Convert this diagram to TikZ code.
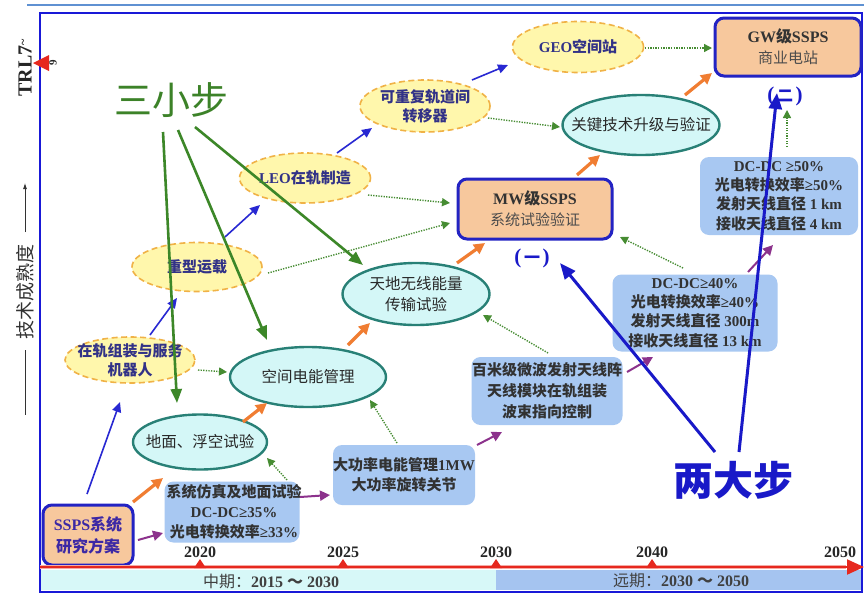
\documentclass[tikz,border=0pt]{standalone}
\usepackage{fontspec}
\setmainfont{Liberation Serif}
\newfontfamily\cjk{Noto Sans CJK SC}
\usetikzlibrary{shapes.geometric,arrows.meta,calc}
\newcommand\zh[1]{{\cjk #1}}
\newcommand\bigpar[1]{{\fontsize{21}{21}\selectfont #1}}
\definecolor{framecol}{RGB}{25,25,215}
\definecolor{topline}{RGB}{95,145,210}
\definecolor{yfill}{RGB}{255,247,172}
\definecolor{yline}{RGB}{240,178,70}
\definecolor{ytext}{RGB}{50,50,135}
\definecolor{cfill}{RGB}{212,247,247}
\definecolor{cline}{RGB}{40,128,118}
\definecolor{ctext}{RGB}{40,40,40}
\definecolor{bfill}{RGB}{168,200,242}
\definecolor{btext}{RGB}{50,50,50}
\definecolor{ofill}{RGB}{247,200,157}
\definecolor{oline}{RGB}{35,35,195}
\definecolor{stxt}{RGB}{60,40,165}
\definecolor{ablue}{RGB}{40,40,210}
\definecolor{aorange}{RGB}{240,125,50}
\definecolor{apurple}{RGB}{140,50,140}
\definecolor{agreen}{RGB}{70,140,50}
\definecolor{gbig}{RGB}{60,135,40}
\definecolor{sxgreen}{RGB}{60,130,40}
\definecolor{ldblue}{RGB}{25,25,200}
\definecolor{tred}{RGB}{230,40,30}
\definecolor{tpink}{RGB}{245,170,165}
\definecolor{bandc}{RGB}{215,248,248}
\definecolor{bandb}{RGB}{165,196,240}
\begin{document}
\begin{tikzpicture}[x=1pt,y=-1pt,
  yel/.style={ellipse, draw=yline, fill=yfill, line width=1.6pt, dash pattern=on 6pt off 3.5pt, inner sep=0pt},
  cyn/.style={ellipse, draw=cline, fill=cfill, line width=2.4pt, inner sep=0pt},
  bbox/.style={rectangle, rounded corners=9pt, fill=bfill, inner sep=0pt},
  obox/.style={rectangle, rounded corners=9pt, fill=ofill, draw=oline, line width=3pt, inner sep=0pt},
  txt/.style={align=center, inner sep=0pt},
  ytxt/.style={txt, text=ytext, font=\fontsize{15}{19}\selectfont\cjk\bfseries},
  ctxt/.style={txt, text=ctext, font=\fontsize{15.5}{21}\selectfont\cjk},
  btxt/.style={txt, text=btext, font=\fontsize{15}{20}\selectfont\bfseries},
  yr/.style={txt, text=black!85, font=\fontsize{16}{16}\selectfont\bfseries},
  barr/.style={draw=ablue, line width=1.6pt, -{Triangle[length=10pt,width=9pt]}},
  oarr/.style={draw=aorange, line width=3.2pt, -{Triangle[length=11pt,width=11pt]}},
  parr/.style={draw=apurple, line width=2pt, -{Triangle[length=10pt,width=10pt]}},
  garr/.style={draw=agreen, line width=1.4pt, dash pattern=on 1.3pt off 1.3pt, -{Triangle[length=8pt,width=8pt]}},
  gbarr/.style={draw=gbig, line width=2.6pt, -{Triangle[length=14pt,width=11pt]}},
  lbarr/.style={draw=ldblue, line width=3pt, -{Triangle[length=16pt,width=13pt]}}
]
\useasboundingbox (0,0) rectangle (864,600);
\fill[white] (0,0) rectangle (864,600);

% timeline bands
\fill[bandc] (41,570) rectangle (496,590);
\fill[bandb] (496,570) rectangle (861,590);

% frame
\draw[topline, line width=2pt] (27,5) -- (864,5);
\draw[framecol, line width=2.5pt] (40,13) rectangle (862,592);

% axis label
\node[rotate=90, txt, font=\fontsize{19}{19}\selectfont\cjk, text=black!80] (trm) at (25,292) {技术成熟度};
\coordinate (ya1) at (25,232);
\coordinate (ya2) at (25,183);
\coordinate (yb1) at (25,350);
\coordinate (yb2) at (25,415);
\draw[black!80, line width=0.8pt, -{Latex[length=6pt,width=4pt]}] (ya1) -- (ya2);
\draw[black!80, line width=0.8pt] (yb1) -- (yb2);
\node[rotate=90, txt, font=\fontsize{20}{20}\selectfont\bfseries, text=black!85] (trl) at (25,68) {TRL7\raisebox{0.5ex}{\fontsize{12}{12}\selectfont\textasciitilde}};
\fill[tred] (33,63) -- (49,55) -- (49,71) -- cycle;
\node[rotate=90, txt, font=\fontsize{11}{11}\selectfont\bfseries, text=black!85] (nine) at (53,63) {9};

% blue boxes
\node[bbox, minimum width=135, minimum height=61] (b2) at (232,512) {};
\node[btxt] (b2t) at (234,512) {\zh{系统仿真及地面试验}\\DC-DC≥35\%\\\zh{光电转换效率}≥33\%};
\node[bbox, minimum width=142, minimum height=60] (b3) at (404,475) {};
\node[btxt] (b3t) at (b3) {\zh{大功率电能管理}1MW\\\zh{大功率旋转关节}};
\node[bbox, minimum width=151, minimum height=68] (b4) at (547,391) {};
\node[btxt, font=\fontsize{15}{21}\selectfont\bfseries] (b4t) at (b4) {\zh{百米级微波发射天线阵}\\\zh{天线模块在轨组装}\\\zh{波束指向控制}};
\node[bbox, minimum width=165, minimum height=77] (b5) at (695,313) {};
\node[btxt, font=\fontsize{15}{19.3}\selectfont\bfseries] (b5t) at (b5) {DC-DC≥40\%\\\zh{光电转换效率}≥40\%\\\zh{发射天线直径} 300m\\\zh{接收天线直径} 13 km};
\node[bbox, minimum width=158, minimum height=78] (b6) at (779,196) {};
\node[btxt, font=\fontsize{15}{19.3}\selectfont\bfseries] (b6t) at (b6) {DC-DC ≥50\%\\\zh{光电转换效率}≥50\%\\\zh{发射天线直径} 1 km\\\zh{接收天线直径} 4 km};

% orange boxes
\node[obox, minimum width=90, minimum height=60] (ssps) at (88,535) {};
\node[txt, text=stxt, font=\fontsize{16}{22}\selectfont\bfseries] (sspst) at (ssps) {SSPS\zh{系统}\\\zh{研究方案}};
\node[obox, minimum width=154, minimum height=60] (mw) at (535,209) {};
\node[txt, text=black!80, font=\fontsize{16}{21}\selectfont\bfseries] (mwt) at (mw) {MW\zh{级}SSPS\\{\fontsize{15}{21}\selectfont\mdseries\cjk\color{black!70}系统试验验证}};
\node[obox, minimum width=146, minimum height=58] (gw) at (788,47) {};
\node[txt, text=black!80, font=\fontsize{16}{21}\selectfont\bfseries] (gwt) at (gw) {GW\zh{级}SSPS\\{\fontsize{15}{21}\selectfont\mdseries\cjk\color{black!70}商业电站}};

% cyan ellipses
\node[cyn, minimum width=134, minimum height=55] (gnd) at (200,442) {};
\node[ctxt] (gndt) at (gnd) {地面、浮空试验};
\node[cyn, minimum width=156, minimum height=60] (pwr) at (308,377) {};
\node[ctxt] (pwrt) at (pwr) {空间电能管理};
\node[cyn, minimum width=147, minimum height=62] (wpt) at (416,294) {};
\node[ctxt] (wptt) at (wpt) {天地无线能量\\传输试验};
\node[cyn, minimum width=157, minimum height=60] (key) at (641,125) {};
\node[ctxt] (keyt) at (key) {关键技术升级与验证};

% yellow dashed ellipses
\node[yel, minimum width=130, minimum height=46] (robot) at (130,360) {};
\node[ytxt] (robott) at (robot) {在轨组装与服务\\机器人};
\node[yel, minimum width=130, minimum height=49] (heavy) at (197,267) {};
\node[ytxt] (heavyt) at (heavy) {重型运载};
\node[yel, minimum width=131, minimum height=50] (leo) at (305,178) {};
\node[ytxt, font=\fontsize{15}{19}\selectfont\bfseries] (leot) at (leo) {LEO\zh{在轨制造}};
\node[yel, minimum width=130, minimum height=52] (otv) at (425,106) {};
\node[ytxt] (otvt) at (otv) {可重复轨道间\\转移器};
\node[yel, minimum width=131, minimum height=51] (geo) at (578,47) {};
\node[ytxt, font=\fontsize{15}{19}\selectfont\bfseries] (geot) at (geo) {GEO\zh{空间站}};

% big labels
\node[txt, font=\fontsize{38}{38}\selectfont\cjk, text=sxgreen] (sx) at (171,100) {三小步};
\node[txt, font=\fontsize{40}{40}\selectfont\cjk\bfseries, text=ldblue] (ld) at (733,480) {两大步};
\node[txt, font=\fontsize{16}{16}\selectfont\bfseries, text=ldblue] (one) at (532,258) {\bigpar{(}\,\zh{一}\,\bigpar{)}};
\node[txt, font=\fontsize{16}{16}\selectfont\bfseries, text=ldblue] (two) at (785,96) {\bigpar{(}\,\zh{二}\,\bigpar{)}};

% timeline
\coordinate (t0) at (40,567);
\coordinate (t1) at (864,567);
\coordinate (t2) at (846,567);
\draw[tpink, line width=4.5pt] (t0) -- (t2);
\draw[tred, line width=2pt, -{Triangle[length=17pt,width=15pt]}] (t0) -- (t1);
\foreach \x in {200,343,496,652} {\fill[tred] (\x-6,568) -- (\x,559) -- (\x+6,568) -- cycle;}
\node[yr] (y2020) at (200,552) {2020};
\node[yr] (y2025) at (343,552) {2025};
\node[yr] (y2030) at (496,552) {2030};
\node[yr] (y2040) at (652,552) {2040};
\node[yr] (y2050) at (840,552) {2050};
\node[yr, text=black!75] (mid) at (271,581) {\zh{\mdseries 中期：}2015 \zh{～} 2030};
\node[yr, text=black!75] (far) at (681,581) {\zh{\mdseries 远期：}2030 \zh{～} 2050};

% blue thin arrows
\draw[barr] ($(ssps)+(-1,-41)$) -- ($(robot)+(-10,42)$);
\draw[barr] ($(robot)+(20,-25)$) -- ($(heavy)+(-20,31)$);
\draw[barr] ($(heavy)+(28,-30)$) -- ($(leo)+(-45,27)$);
\draw[barr] ($(leo)+(32,-25)$) -- ($(otv)+(-53,22)$);
\draw[barr] ($(otv)+(47,-26)$) -- ($(geo)+(-70,18)$);

% orange arrows
\draw[oarr] ($(ssps)+(45,-33)$) -- ($(gnd)+(-37,36)$);
\draw[oarr] ($(gnd)+(43,-20)$) -- ($(pwr)+(-41,26)$);
\draw[oarr] ($(pwr)+(40,-32)$) -- ($(wpt)+(-46,29)$);
\draw[oarr] ($(wpt)+(41,-31)$) -- ($(mw)+(-50,34)$);
\draw[oarr] ($(mw)+(42,-34)$) -- ($(key)+(-41,30)$);
\draw[oarr] ($(key)+(44,-30)$) -- ($(gw)+(-76,26)$);

% purple arrows
\draw[parr] ($(ssps)+(50,5)$) -- ($(b2)+(-69,21)$);
\draw[parr] ($(b2)+(68,-15)$) -- ($(b3)+(-74,20)$);
\draw[parr] ($(b3)+(73,-30)$) -- ($(b4)+(-45,41)$);
\draw[parr] ($(b4)+(80,-19)$) -- ($(b5)+(-42,44)$);
\draw[parr] ($(b5)+(53,-41)$) -- ($(b6)+(-6,49)$);

% green dotted arrows
\draw[garr] ($(robot)+(68,10)$) -- ($(pwr)+(-81,-5)$);
\draw[garr] ($(heavy)+(71,6)$) -- ($(mw)+(-85,14)$);
\draw[garr] ($(leo)+(63,17)$) -- ($(mw)+(-85,-6)$);
\draw[garr] ($(otv)+(63,12)$) -- ($(key)+(-81,2)$);
\draw[garr] ($(geo)+(67,1)$) -- ($(gw)+(-76,1)$);
\draw[garr] ($(b2)+(55,-32)$) -- ($(gnd)+(67,16)$);
\draw[garr] ($(b3)+(-7,-32)$) -- ($(pwr)+(62,23)$);
\draw[garr] ($(b4)+(1,-38)$) -- ($(wpt)+(67,21)$);
\draw[garr] ($(b5)+(-12,-45)$) -- ($(mw)+(85,28)$);
\draw[garr] ($(b6)+(8,-49)$) -- ($(two)+(2,14)$);

% green thick arrows from 三小步
\draw[gbarr] ($(sx)+(-8,32)$) -- ($(gnd)+(-23,-39)$);
\draw[gbarr] ($(sx)+(7,30)$) -- ($(pwr)+(-41,-37)$);
\draw[gbarr] ($(sx)+(24,27)$) -- ($(wpt)+(-53,-29)$);

% blue thick arrows from 两大步
\draw[lbarr] ($(ld)+(-18,-28)$) -- ($(one)+(28,5)$);
\draw[lbarr] ($(ld)+(6,-28)$) -- ($(two)+(-8,-3)$);
\end{tikzpicture}
\end{document}
